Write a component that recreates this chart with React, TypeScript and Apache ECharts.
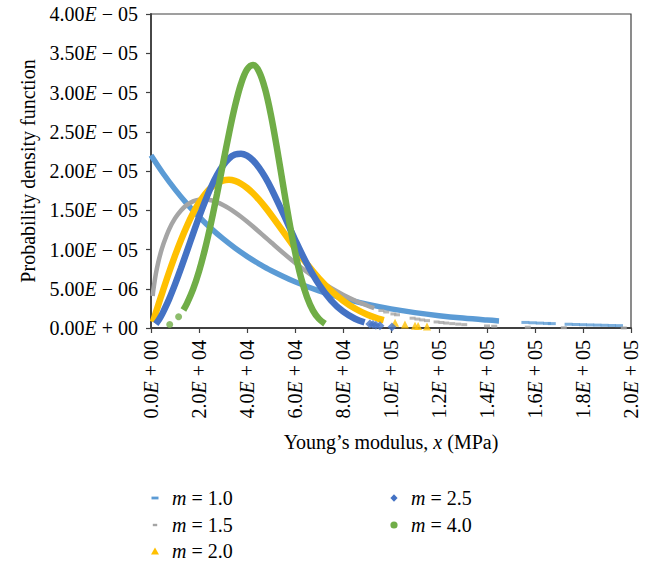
import React, { useEffect, useRef } from "react";
import * as echarts from "echarts";

const FONT = '"Liberation Serif", "Times New Roman", serif';
const FS = 20;

const seriesNames = ["m = 1.0", "m = 1.5", "m = 2.0", "m = 2.5", "m = 4.0"];
const seriesColors = ["#5B9BD5", "#A5A5A5", "#FFC000", "#4472C4", "#70AD47"];

const xTickLabels = [
  "0.0E + 00", "2.0E + 04", "4.0E + 04", "6.0E + 04", "8.0E + 04", "1.0E + 05",
  "1.2E + 05", "1.4E + 05", "1.6E + 05", "1.8E + 05", "2.0E + 05",
];
const yTickLabels = [
  "0.00E + 00", "5.00E − 06", "1.00E − 05", "1.50E − 05", "2.00E − 05",
  "2.50E − 05", "3.00E − 05", "3.50E − 05", "4.00E − 05",
];

// m = 1.0 (dense part, then sparse dash markers)
const m10Line = [
  [0, 2.2e-5], [5000, 1.971e-5], [10000, 1.766e-5], [15000, 1.582e-5], [20000, 1.417e-5],
  [25000, 1.269e-5], [30000, 1.137e-5], [35000, 1.019e-5], [40000, 9.13e-6], [45000, 8.18e-6],
  [50000, 7.32e-6], [60000, 5.88e-6], [70000, 4.72e-6], [80000, 3.78e-6], [90000, 3.04e-6],
  [100000, 2.44e-6], [110000, 1.96e-6], [120000, 1.57e-6], [130000, 1.26e-6], [140000, 1.01e-6],
  [145000, 9.06e-7],
];
const m10Tail = [
  [156000, 7.11e-7], [159000, 6.66e-7], [162000, 6.23e-7], [165000, 5.83e-7], [167000, 5.58e-7],
  [174000, 4.79e-7], [177000, 4.48e-7], [180000, 4.19e-7], [183000, 3.92e-7], [186000, 3.67e-7],
  [189000, 3.44e-7], [192000, 3.22e-7], [195000, 3.01e-7],
];

// m = 1.5
const m15Line = [
  [700, 4.08e-6], [1000, 4.88e-6], [2000, 6.86e-6], [3000, 8.34e-6], [4000, 9.54e-6],
  [5000, 1.055e-5], [7500, 1.254e-5], [10000, 1.396e-5], [12500, 1.498e-5], [15000, 1.568e-5],
  [17500, 1.613e-5], [20000, 1.635e-5], [22500, 1.639e-5], [25000, 1.627e-5], [27500, 1.603e-5],
  [30000, 1.568e-5], [32500, 1.524e-5], [35000, 1.473e-5], [37500, 1.417e-5], [40000, 1.356e-5],
  [42500, 1.292e-5], [45000, 1.226e-5], [47500, 1.159e-5], [50000, 1.092e-5], [55000, 9.59e-6],
  [60000, 8.32e-6], [65000, 7.14e-6], [70000, 6.06e-6], [75000, 5.09e-6], [80000, 4.24e-6],
  [85000, 3.5e-6], [90000, 2.87e-6], [93000, 2.53e-6],
];
const m15Tail = [
  [96000, 2.23e-6], [98000, 2.04e-6], [101000, 1.79e-6], [102500, 1.68e-6], [109000, 1.25e-6],
  [111000, 1.14e-6], [113000, 1.03e-6], [115000, 9.4e-7], [119000, 7.7e-7], [121000, 7.0e-7],
  [123000, 6.3e-7], [125500, 5.6e-7], [128000, 4.9e-7], [130500, 4.3e-7], [140000, 2.6e-7],
  [143000, 2.2e-7], [157000, 1.0e-7], [172000, 4e-8], [197000, 1e-8],
];

// m = 2.0
const m20Line = [
  [800, 7.7e-7], [2000, 1.93e-6], [3000, 2.89e-6], [4000, 3.84e-6], [5000, 4.78e-6],
  [7500, 7.07e-6], [10000, 9.22e-6], [12500, 1.122e-5], [15000, 1.302e-5], [17500, 1.461e-5],
  [20000, 1.595e-5], [22500, 1.705e-5], [25000, 1.788e-5], [27500, 1.846e-5], [30000, 1.879e-5],
  [32500, 1.887e-5], [35000, 1.873e-5], [37500, 1.838e-5], [40000, 1.785e-5], [42500, 1.716e-5],
  [45000, 1.635e-5], [47500, 1.543e-5], [50000, 1.443e-5], [55000, 1.231e-5], [60000, 1.017e-5],
  [65000, 8.14e-6], [70000, 6.32e-6], [75000, 4.77e-6], [80000, 3.5e-6], [85000, 2.49e-6],
  [90000, 1.73e-6], [95000, 1.17e-6], [97000, 9.9e-7],
];
const m20Tail = [
  [101700, 6.6e-7], [105800, 4.5e-7], [110000, 3.0e-7], [111300, 2.7e-7], [115000, 1.8e-7],
];

// m = 2.5
const m25Line = [
  [2000, 5.1e-7], [3000, 9.3e-7], [4000, 1.43e-6], [5000, 2.0e-6], [7500, 3.65e-6],
  [10000, 5.55e-6], [12500, 7.62e-6], [15000, 9.8e-6], [17500, 1.199e-5], [20000, 1.412e-5],
  [22500, 1.612e-5], [25000, 1.793e-5], [27500, 1.947e-5], [30000, 2.07e-5], [32500, 2.159e-5],
  [35000, 2.209e-5], [37500, 2.221e-5], [40000, 2.196e-5], [42500, 2.135e-5], [45000, 2.043e-5],
  [47500, 1.924e-5], [50000, 1.784e-5], [55000, 1.463e-5], [60000, 1.127e-5], [65000, 8.15e-6],
  [70000, 5.54e-6], [75000, 3.53e-6], [80000, 2.11e-6], [85000, 1.18e-6], [89000, 7.1e-7],
];
const m25Tail = [
  [91200, 5.2e-7], [92500, 4.3e-7], [93700, 3.6e-7], [95400, 2.8e-7], [100400, 1.3e-7],
];

// m = 4.0
const m40Line = [
  [13500, 2.29e-6], [15000, 3.13e-6], [17500, 4.91e-6], [20000, 7.22e-6], [22500, 1.005e-5],
  [25000, 1.336e-5], [27500, 1.704e-5], [30000, 2.093e-5], [32500, 2.477e-5], [35000, 2.827e-5],
  [37500, 3.11e-5], [40000, 3.292e-5], [42500, 3.35e-5], [45000, 3.268e-5], [47500, 3.048e-5],
  [50000, 2.709e-5], [52500, 2.287e-5], [55000, 1.827e-5], [57500, 1.376e-5], [60000, 9.72e-6],
  [62500, 6.41e-6], [65000, 3.93e-6], [67500, 2.22e-6], [70000, 1.16e-6], [72500, 5.5e-7],
];
const m40Head = [[7800, 4.45e-7], [11500, 1.43e-6]];

const lineData = [m10Line, m15Line, m20Line, m25Line, m40Line];
const pointData = [m10Tail, m15Tail, m20Tail, m25Tail, m40Head];
const lineWidths = [5.5, 4.5, 6.5, 6.5, 6.5];
const pointSymbols = ["rect", "rect", "triangle", "diamond", "circle"];
const pointSizes: any[] = [[8, 3], [6, 3], 8, 9, 7];

// legend icons: 22x10 boxes (corner points fix bounds), visible mark centred at x=10
const BOX = "M0,0L0,0M22,10L22,10";
const legendIcons = [
  "path://" + BOX + "M6.5,3.6H13.5V6.4H6.5Z",
  "path://" + BOX + "M7.8,3.8H12.2V6.2H7.8Z",
  "path://" + BOX + "M10,1.4L14,8.4H6Z",
  "path://" + BOX + "M10,1.2L13.6,5L10,8.8L6.4,5Z",
  "path://" + BOX + "M6.4,5A3.6,3.6,0,1,0,13.6,5A3.6,3.6,0,1,0,6.4,5Z",
];
// legend slots (column left, row top)
const legendLefts = [145, 145, 145, 384, 384];
const legendTops = [488, 515, 541, 488, 515];

const eLabel = (s: string) => s.replace("E", "{e|E}");
const richE = {
  e: { fontStyle: "italic", fontFamily: FONT, fontSize: FS, color: "#000" },
};

export default function App() {
  const ref = useRef<HTMLDivElement>(null);
  useEffect(() => {
    if (!ref.current) return;
    const chart = echarts.init(ref.current, undefined, { renderer: "svg" });
    const series: any[] = [];
    seriesNames.forEach((name, i) => {
      series.push({
        name,
        type: "line",
        data: lineData[i],
        smooth: 0.35,
        showSymbol: false,
        symbol: "none",
        lineStyle: { color: seriesColors[i], width: lineWidths[i] },
        itemStyle: { color: seriesColors[i] },
        z: 2 + i,
      });
      series.push({
        name,
        type: "scatter",
        data: pointData[i],
        symbol: pointSymbols[i],
        symbolSize: pointSizes[i],
        itemStyle: { color: seriesColors[i] },
        z: 2 + i,
      });
    });
    const legendText = {
      fontFamily: FONT,
      fontSize: FS,
      color: "#000",
      lineHeight: 20,
      rich: { i: { fontStyle: "italic", fontFamily: FONT, fontSize: FS, color: "#000", lineHeight: 20 } },
    };
    const legends = seriesNames.map((name, i) => ({
      orient: "vertical",
      left: legendLefts[i],
      top: legendTops[i],
      padding: 0,
      itemWidth: 22,
      itemHeight: 10,
      symbolKeepAspect: false,
      selectedMode: false,
      textStyle: legendText,
      itemStyle: { borderWidth: 0 },
      formatter: (n: string) => "{i|m}" + n.slice(1),
      data: [{ name, icon: legendIcons[i] }],
    }));
    chart.setOption({
      animation: false,
      backgroundColor: "#fff",
      grid: {
        left: 151, right: 17, top: 14, bottom: 237,
        show: true, borderColor: "#404040", borderWidth: 1.2,
      },
      legend: legends,
      xAxis: {
        type: "value",
        min: 0,
        max: 200000,
        interval: 20000,
        axisLine: { show: true, onZero: false, lineStyle: { color: "#404040", width: 1.8 } },
        axisTick: { show: true, length: 5, lineStyle: { color: "#404040", width: 1.2 } },
        splitLine: { show: false },
        axisLabel: {
          rotate: 90,
          margin: 12,
          fontFamily: FONT,
          fontSize: FS,
          color: "#000",
          formatter: (v: number) => eLabel(xTickLabels[Math.round(v / 20000)] ?? ""),
          rich: richE,
        },
        name: "Young’s modulus, {i|x} (MPa)",
        nameLocation: "middle",
        nameGap: 104,
        nameTextStyle: {
          fontFamily: FONT,
          fontSize: FS,
          color: "#000",
          rich: { i: { fontStyle: "italic", fontFamily: FONT, fontSize: FS, color: "#000" } },
        },
      },
      yAxis: {
        type: "value",
        min: 0,
        max: 4e-5,
        interval: 5e-6,
        axisLine: { show: true, onZero: false, lineStyle: { color: "#404040", width: 1.8 } },
        axisTick: { show: true, length: 5, lineStyle: { color: "#404040", width: 1.2 } },
        splitLine: { show: false },
        axisLabel: {
          margin: 13,
          fontFamily: FONT,
          fontSize: FS,
          color: "#000",
          formatter: (v: number) => eLabel(yTickLabels[Math.round(v / 5e-6)] ?? ""),
          rich: richE,
        },
        name: "Probability density function",
        nameLocation: "middle",
        nameGap: 113,
        nameTextStyle: { fontFamily: FONT, fontSize: FS, color: "#000" },
      },
      series,
    });
    return () => chart.dispose();
  }, []);
  return (
    <div
      ref={ref}
      style={{ position: "fixed", left: 0, top: 0, width: 648, height: 565, background: "#fff" }}
    />
  );
}
